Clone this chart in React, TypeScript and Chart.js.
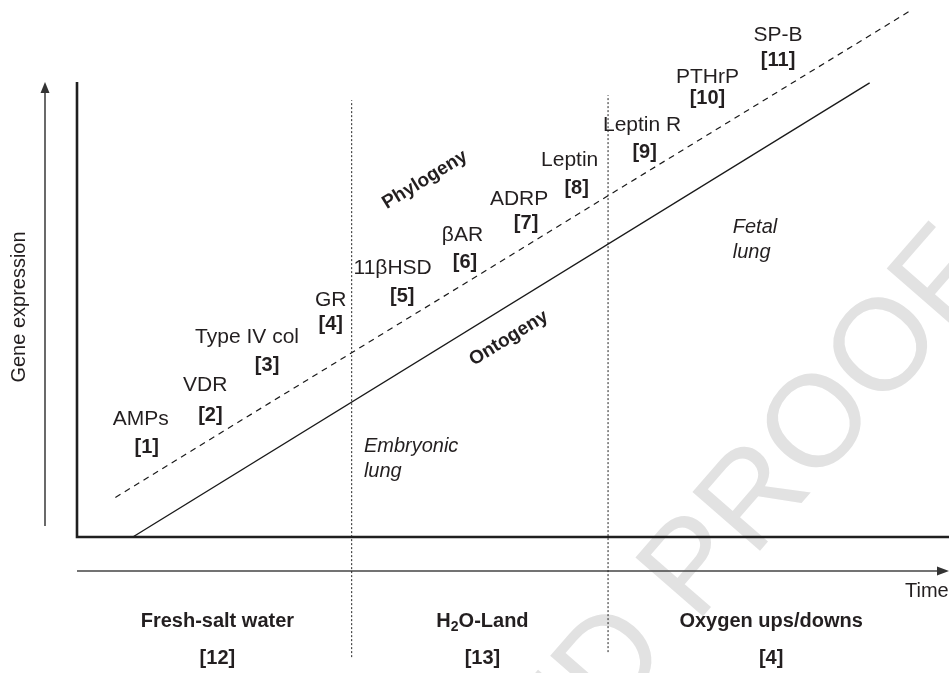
import React, { useEffect, useRef } from "react";
import { Chart, registerables } from "chart.js";

Chart.register(...registerables);

// ---- data (time units 0..100 along x, expression units 0..100 along y) ----
const ontogenyTime = [6.4, 90.9];
const ontogenyLevel = [0, 99.8];
const phylogenyTime = [4.4, 95.5];
const phylogenyLevel = [8.7, 115.6];

const eraBoundaries = [31.5, 60.9];
const eraLineTop = [96.0, 97.1];
const eraLineBottom = [-26.4, -25.3];

const geneNames = ["AMPs", "VDR", "Type IV col", "GR", "11βHSD", "βAR", "ADRP", "Leptin", "Leptin R", "PTHrP", "SP-B"];
const geneRefs = ["[1]", "[2]", "[3]", "[4]", "[5]", "[6]", "[7]", "[8]", "[9]", "[10]", "[11]"];
const geneTime = [7.3, 14.7, 19.5, 29.1, 36.2, 44.2, 50.7, 56.5, 64.8, 72.3, 80.4];
const geneLevel = [25.9, 33.4, 44.0, 52.1, 59.1, 66.4, 74.3, 82.9, 90.6, 101.1, 110.3];
const refTime = [8.0, 15.3, 21.8, 29.1, 37.3, 44.5, 51.5, 57.3, 65.1, 72.3, 80.4];
const refLevel = [19.6, 26.8, 37.8, 46.6, 52.8, 60.4, 68.8, 76.7, 84.4, 96.3, 104.8];

const eraNames = ["Fresh-salt water", "H2O-Land", "Oxygen ups/downs"];
const eraRefs = ["[12]", "[13]", "[4]"];
const eraCenters = [16.1, 46.5, 79.6];

const stageNames = [["Embryonic", "lung"], ["Fetal", "lung"]];
const stageTime = [32.9, 75.2];
const stageLevel = [19.8, 68.1];

const trendNames = ["Phylogeny", "Ontogeny"];
const trendTime = [39.9, 49.5];
const trendLevel = [78.5, 43.7];

const yAxisTitle = "Gene expression";
const xAxisTitle = "Time";
const watermark = "CORRECTED PROOF";

const FONT = '"Liberation Sans", Arial, Helvetica, sans-serif';
const INK = "#231f20";

export default function App() {
  const ref = useRef<HTMLCanvasElement>(null);

  useEffect(() => {
    document.body.style.margin = "0";
    const canvas = ref.current!;
    const pts = (xs: number[], ys: number[]) => xs.map((x, i) => ({ x, y: ys[i] }));

    const text = (ctx: CanvasRenderingContext2D, s: string, x: number, y: number, font: string, align: CanvasTextAlign = "center") => {
      ctx.font = font;
      ctx.textAlign = align;
      ctx.textBaseline = "middle";
      ctx.fillStyle = INK;
      ctx.fillText(s, x, y);
    };

    const subText = (ctx: CanvasRenderingContext2D, s: string, cx: number, y: number, size: number) => {
      // render digits following a letter as subscripts
      const parts: { t: string; sub: boolean }[] = [];
      const re = /([A-Za-z])(\d)/g;
      let last = 0;
      let m: RegExpExecArray | null;
      while ((m = re.exec(s))) {
        parts.push({ t: s.slice(last, m.index + 1), sub: false });
        parts.push({ t: m[2], sub: true });
        last = m.index + 2;
      }
      parts.push({ t: s.slice(last), sub: false });
      const mainF = `bold ${size}px ${FONT}`;
      const subF = `bold ${Math.round(size * 0.7)}px ${FONT}`;
      let total = 0;
      for (const p of parts) {
        ctx.font = p.sub ? subF : mainF;
        total += ctx.measureText(p.t).width;
      }
      let x = cx - total / 2;
      ctx.textAlign = "left";
      ctx.textBaseline = "middle";
      ctx.fillStyle = INK;
      for (const p of parts) {
        ctx.font = p.sub ? subF : mainF;
        ctx.fillText(p.t, x, p.sub ? y + 6 : y);
        x += ctx.measureText(p.t).width;
      }
    };

    const diagram = {
      id: "diagram",
      beforeDatasetsDraw(chart: any) {
        const ctx: CanvasRenderingContext2D = chart.ctx;
        const { left, top, bottom } = chart.chartArea;
        const W = chart.width;
        ctx.save();
        // watermark
        ctx.font = `130px ${FONT}`;
        const pre = ctx.measureText("CORRECTED PRO").width;
        const wO = ctx.measureText("O").width;
        ctx.translate(887, 350);
        ctx.rotate((-49 * Math.PI) / 180);
        ctx.fillStyle = "#e2e2e2";
        ctx.textAlign = "left";
        ctx.textBaseline = "middle";
        ctx.fillText(watermark, -(pre + wO / 2), 0);
        ctx.restore();

        ctx.save();
        // frame
        ctx.strokeStyle = "#1f1f1f";
        ctx.lineWidth = 2.6;
        ctx.beginPath();
        ctx.moveTo(left, top);
        ctx.lineTo(left, bottom);
        ctx.lineTo(W, bottom);
        ctx.stroke();

        // gene expression arrow
        const ax = left - 32;
        ctx.strokeStyle = "#444";
        ctx.fillStyle = "#333";
        ctx.lineWidth = 1.6;
        ctx.beginPath();
        ctx.moveTo(ax, bottom - 11);
        ctx.lineTo(ax, top + 8);
        ctx.stroke();
        ctx.beginPath();
        ctx.moveTo(ax, top);
        ctx.lineTo(ax - 4.5, top + 11);
        ctx.lineTo(ax + 4.5, top + 11);
        ctx.closePath();
        ctx.fill();

        // time arrow
        const ty = bottom + 34;
        ctx.beginPath();
        ctx.moveTo(left, ty);
        ctx.lineTo(W - 8, ty);
        ctx.stroke();
        ctx.beginPath();
        ctx.moveTo(W, ty);
        ctx.lineTo(W - 12, ty - 4.5);
        ctx.lineTo(W - 12, ty + 4.5);
        ctx.closePath();
        ctx.fill();
        ctx.restore();
      },
      afterDatasetsDraw(chart: any) {
        const ctx: CanvasRenderingContext2D = chart.ctx;
        const xs = chart.scales.x;
        const ys = chart.scales.y;
        const { left, bottom } = chart.chartArea;
        ctx.save();

        // axis titles
        ctx.save();
        ctx.translate(left - 58, 307);
        ctx.rotate(-Math.PI / 2);
        text(ctx, yAxisTitle, 0, 0, `20px ${FONT}`);
        ctx.restore();
        text(ctx, xAxisTitle, 905, bottom + 54, `20px ${FONT}`, "left");

        // gene labels
        geneNames.forEach((g, i) => {
          text(ctx, g, xs.getPixelForValue(geneTime[i]), ys.getPixelForValue(geneLevel[i]), `21px ${FONT}`);
          text(ctx, geneRefs[i], xs.getPixelForValue(refTime[i]), ys.getPixelForValue(refLevel[i]), `bold 20px ${FONT}`);
        });

        // stage labels
        stageNames.forEach((lines, i) => {
          const x = xs.getPixelForValue(stageTime[i]);
          const y = ys.getPixelForValue(stageLevel[i]);
          lines.forEach((l, j) => text(ctx, l, x, y + j * 25, `italic 20px ${FONT}`, "left"));
        });

        // trend labels, rotated along their lines
        const trends = [
          [phylogenyTime, phylogenyLevel],
          [ontogenyTime, ontogenyLevel],
        ];
        trendNames.forEach((n, i) => {
          const [tx, tl] = trends[i];
          const ang = Math.atan2(
            ys.getPixelForValue(tl[1]) - ys.getPixelForValue(tl[0]),
            xs.getPixelForValue(tx[1]) - xs.getPixelForValue(tx[0])
          );
          ctx.save();
          ctx.translate(xs.getPixelForValue(trendTime[i]), ys.getPixelForValue(trendLevel[i]));
          ctx.rotate(ang);
          text(ctx, n, 0, 0, `bold 19px ${FONT}`);
          ctx.restore();
        });

        // era labels
        eraNames.forEach((e, i) => {
          const x = xs.getPixelForValue(eraCenters[i]);
          subText(ctx, e, x, bottom + 84, 20);
          text(ctx, eraRefs[i], x, bottom + 121, `bold 20px ${FONT}`);
        });
        ctx.restore();
      },
    };

    const line = (label: string, data: any[], extra: any) => ({
      label,
      data,
      showLine: true,
      pointRadius: 0,
      borderColor: "#1a1a1a",
      clip: false,
      ...extra,
    });

    const chart = new Chart(canvas, {
      type: "scatter",
      data: {
        datasets: [
          line("Ontogeny", pts(ontogenyTime, ontogenyLevel), { borderWidth: 1.4 }),
          line("Phylogeny", pts(phylogenyTime, phylogenyLevel), { borderWidth: 1.2, borderDash: [6, 5] }),
          ...eraBoundaries.map((b, i) =>
            line("Era " + (i + 1), [{ x: b, y: eraLineBottom[i] }, { x: b, y: eraLineTop[i] }], {
              borderWidth: 1,
              borderDash: [2, 2],
              borderColor: "#222",
            })
          ),
        ],
      },
      options: {
        responsive: false,
        animation: false,
        events: [],
        layout: { padding: { left: 77, top: 82, right: 0, bottom: 136 } },
        scales: {
          x: { type: "linear", min: 0, max: 100, display: false },
          y: { type: "linear", min: 0, max: 100, display: false },
        },
        plugins: { legend: { display: false }, tooltip: { enabled: false } },
      },
      plugins: [diagram],
    });
    return () => chart.destroy();
  }, []);

  return (
    <div style={{ width: 949, height: 673, background: "#fff" }}>
      <canvas ref={ref} width={949} height={673} style={{ display: "block" }} />
    </div>
  );
}
